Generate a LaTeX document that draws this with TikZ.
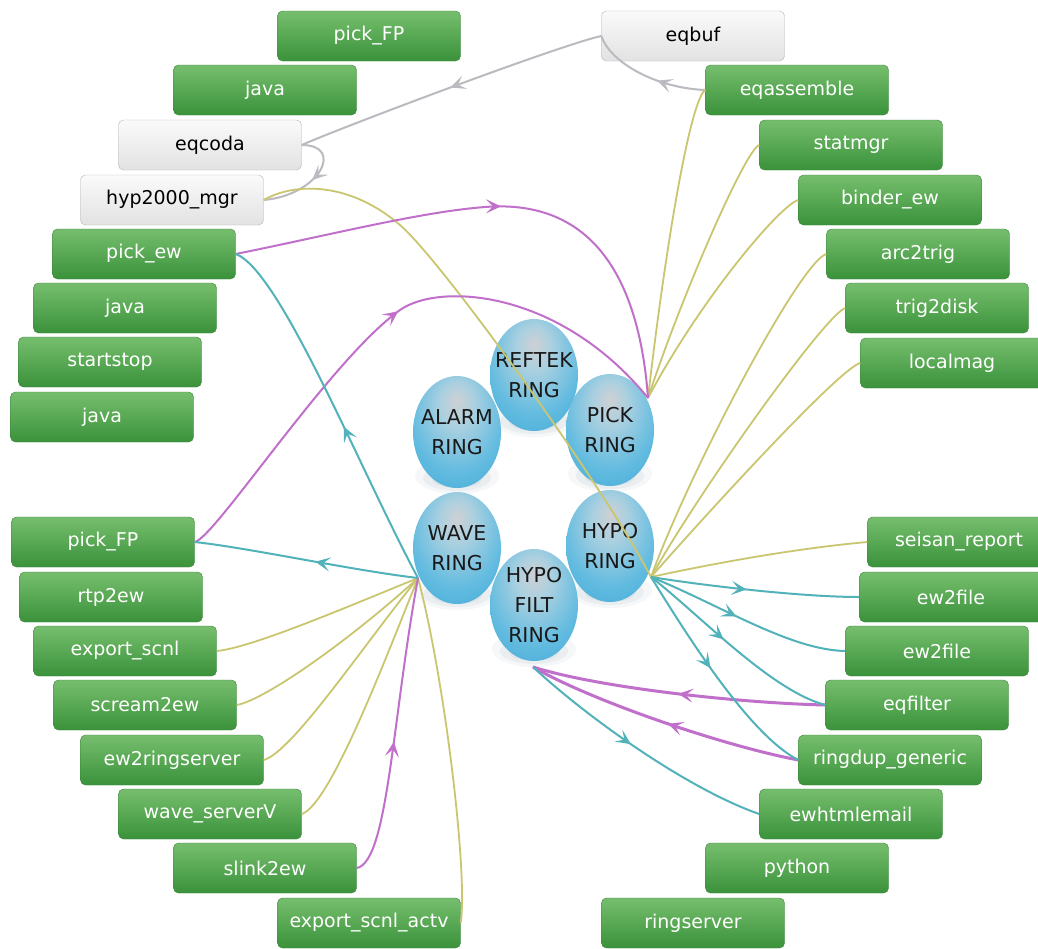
\documentclass[tikz,border=0pt]{standalone}
\usepackage{fontspec}
\setmainfont{DejaVu Sans}
\usetikzlibrary{arrows.meta,decorations.markings,shapes.geometric}
\definecolor{gtop}{RGB}{118,190,110}
\definecolor{gbot}{RGB}{58,146,58}
\definecolor{gbord}{RGB}{60,130,60}
\definecolor{ltop}{RGB}{250,250,250}
\definecolor{lbot}{RGB}{226,226,226}
\definecolor{lbord}{RGB}{182,182,182}
\definecolor{cgray}{RGB}{186,186,192}
\definecolor{colive}{RGB}{202,198,112}
\definecolor{cmag}{RGB}{192,112,202}
\definecolor{cteal}{RGB}{82,178,186}
\definecolor{rb0}{RGB}{206,208,212}
\definecolor{rb1}{RGB}{170,208,224}
\definecolor{rb2}{RGB}{100,188,224}
\definecolor{rb3}{RGB}{62,168,214}
\definecolor{shadowc}{RGB}{90,120,140}
\pgfdeclareradialshading{ringball}{\pgfpoint{0bp}{14bp}}{color(0bp)=(rb0); color(10bp)=(rb1); color(26bp)=(rb2); color(42bp)=(rb3); color(70bp)=(rb3)}
\tikzset{
  gbox/.style={rectangle, rounded corners=5pt, minimum width=183pt, minimum height=50pt, inner sep=0pt,
    draw=gbord, top color=gtop, bottom color=gbot, text=white, font=\fontsize{19}{22}\selectfont},
  lbox/.style={rectangle, rounded corners=5pt, minimum width=183pt, minimum height=50pt, inner sep=0pt,
    draw=lbord, top color=ltop, bottom color=lbot, text=black, font=\fontsize{19}{22}\selectfont},
  ringnode/.style={ellipse, minimum width=88pt, minimum height=112pt, inner xsep=-16pt, inner ysep=-14pt, shading=ringball,
    align=center, text=black!90, font=\fontsize{20.5}{30}\selectfont},
  grayl/.style={line width=2pt, color=cgray},
  olivel/.style={line width=1.8pt, color=colive},
  magl/.style={line width=2pt, color=cmag},
  magll/.style={line width=3pt, color=cmag},
  teall/.style={line width=2pt, color=cteal},
  marr/.style={postaction={decorate,decoration={markings,mark=at position #1 with {\arrow{Stealth[length=15pt,width=14pt,inset=7pt]}}}}}
}
\begin{document}
\begin{tikzpicture}[x=1pt,y=-1pt]
\useasboundingbox (0,0) rectangle (1038,948);
\fill[white] (0,0) rectangle (1038,948);
% ring shadows
\foreach \cx/\cy in {457/432,534/375,610/430,457/548,610/546,534/605}{
  \fill[shadowc,opacity=0.06] (\cx,\cy+44) ellipse (42pt and 18pt);
  \fill[shadowc,opacity=0.07] (\cx,\cy+46) ellipse (34pt and 13pt);
  \fill[shadowc,opacity=0.08] (\cx,\cy+47) ellipse (25pt and 9pt);
}
% rings
\node[ringnode] (alarm) at (457,432) {ALARM\\RING};
\node[ringnode] (reftek) at (534,375) {REFTEK\\RING};
\node[ringnode] (pick) at (610,430) {PICK\\RING};
\node[ringnode] (wave) at (457,548) {WAVE\\RING};
\node[ringnode] (hypo) at (610,546) {HYPO\\RING};
\node[ringnode] (hypofilt) at (534,605) {HYPO\\FILT\\RING};
% hubs
\coordinate (pickhub) at (648,398);
\coordinate (hypohub) at (651,577);
\coordinate (wavehub) at (418,578);
\coordinate (filthub) at (533,667);
% boxes
\node[gbox] (pickFPa) at (369,36) {pick\_FP};
\node[gbox] (javaA) at (265,90) {java};
\node[lbox] (eqcoda) at (210,145) {eqcoda};
\node[lbox] (hyp) at (172,200) {hyp2000\_mgr};
\node[gbox] (pickew) at (144,254) {pick\_ew};
\node[gbox] (javaB) at (125,308) {java};
\node[gbox] (startstop) at (110,362) {startstop};
\node[gbox] (javaC) at (102,417) {java};
\node[gbox] (pickFPb) at (103,542) {pick\_FP};
\node[gbox] (rtp) at (111,597) {rtp2ew};
\node[gbox] (expscnl) at (125,651) {export\_scnl};
\node[gbox] (scream) at (145,705) {scream2ew};
\node[gbox] (ewrs) at (172,760) {ew2ringserver};
\node[gbox] (wsv) at (210,814) {wave\_serverV};
\node[gbox] (slink) at (265,868) {slink2ew};
\node[gbox] (expactv) at (369,923) {export\_scnl\_actv};
\node[lbox] (eqbuf) at (693,36) {eqbuf};
\node[gbox] (eqasm) at (797,90) {eqassemble};
\node[gbox] (statmgr) at (851,145) {statmgr};
\node[gbox] (binder) at (890,200) {binder\_ew};
\node[gbox] (arc) at (918,254) {arc2trig};
\node[gbox] (trig) at (937,308) {trig2disk};
\node[gbox] (localmag) at (952,363) {localmag};
\node[gbox] (seisan) at (959,542) {seisan\_report};
\node[gbox] (ewfa) at (951,597) {ew2file};
\node[gbox] (ewfb) at (937,651) {ew2file};
\node[gbox] (eqfilter) at (917,705) {eqfilter};
\node[gbox] (ringdup) at (890,760) {ringdup\_generic};
\node[gbox] (ewhtml) at (851,814) {ewhtmlemail};
\node[gbox] (python) at (797,868) {python};
\node[gbox] (ringserver) at (693,923) {ringserver};
% gray connectors
\draw[grayl, marr=0.5] (eqbuf.west) .. controls (560,45) and (340,128) .. (eqcoda.east);
\draw[grayl, marr=0.4] (eqasm.west) .. controls (655,88) and (610,62) .. (eqbuf.west);
\draw[grayl, marr=0.5] (eqcoda.east) .. controls (345,145) and (320,195) .. (hyp.east);
% olive connectors
\draw[olivel] (hyp.east) .. controls (295,182) and (350,182) .. (400,225) .. controls (440,259) and (600,480) .. (hypohub);
\draw[olivel] (eqasm.west) .. controls (690,100) and (665,250) .. (pickhub);
\draw[olivel] (statmgr.west) .. controls (745,150) and (680,300) .. (pickhub);
\draw[olivel] (binder.west) .. controls (780,205) and (700,300) .. (pickhub);
\draw[olivel] (arc.west) .. controls (800,262) and (690,470) .. (hypohub);
\draw[olivel] (trig.west) .. controls (825,315) and (700,490) .. (hypohub);
\draw[olivel] (localmag.west) .. controls (840,368) and (710,510) .. (hypohub);
\draw[olivel] (seisan.west) .. controls (800,548) and (720,562) .. (hypohub);
\draw[olivel] (expscnl.east) .. controls (250,648) and (340,610) .. (wavehub);
\draw[olivel] (scream.east) .. controls (265,700) and (350,640) .. (wavehub);
\draw[olivel] (ewrs.east) .. controls (292,752) and (360,650) .. (wavehub);
\draw[olivel] (wsv.east) .. controls (330,805) and (385,660) .. (wavehub);
\draw[olivel] (expactv.east) .. controls (468,875) and (445,680) .. (wavehub);
% magenta connectors
\draw[magl, marr=0.5] (pickew.east) .. controls (330,235) and (420,212) .. (485,207) .. controls (600,198) and (640,290) .. (pickhub);
\draw[magl, marr=0.52] (pickFPb.east) .. controls (215,538) and (330,360) .. (400,310) .. controls (440,282) and (560,290) .. (pickhub);
\draw[magl, marr=0.45] (slink.east) .. controls (388,862) and (392,720) .. (wavehub);
\draw[magll, marr=0.5] (eqfilter.west) .. controls (740,703) and (600,688) .. (filthub);
\draw[magll, marr=0.48] (ringdup.west) .. controls (720,745) and (590,700) .. (filthub);
% teal connectors
\draw[teall, marr=0.46] (wavehub) .. controls (350,570) and (250,548) .. (pickFPb.east);
\draw[teall, marr=0.45] (wavehub) .. controls (360,470) and (280,270) .. (pickew.east);
\draw[teall, marr=0.46] (hypohub) .. controls (700,585) and (800,597) .. (ewfa.west);
\draw[teall, marr=0.45] (hypohub) .. controls (720,605) and (790,650) .. (ewfb.west);
\draw[teall, marr=0.44] (hypohub) .. controls (700,615) and (770,690) .. (eqfilter.west);
\draw[teall, marr=0.46] (hypohub) .. controls (690,640) and (750,735) .. (ringdup.west);
\draw[teall, marr=0.46] (filthub) .. controls (590,720) and (690,790) .. (ewhtml.west);
\end{tikzpicture}
\end{document}
